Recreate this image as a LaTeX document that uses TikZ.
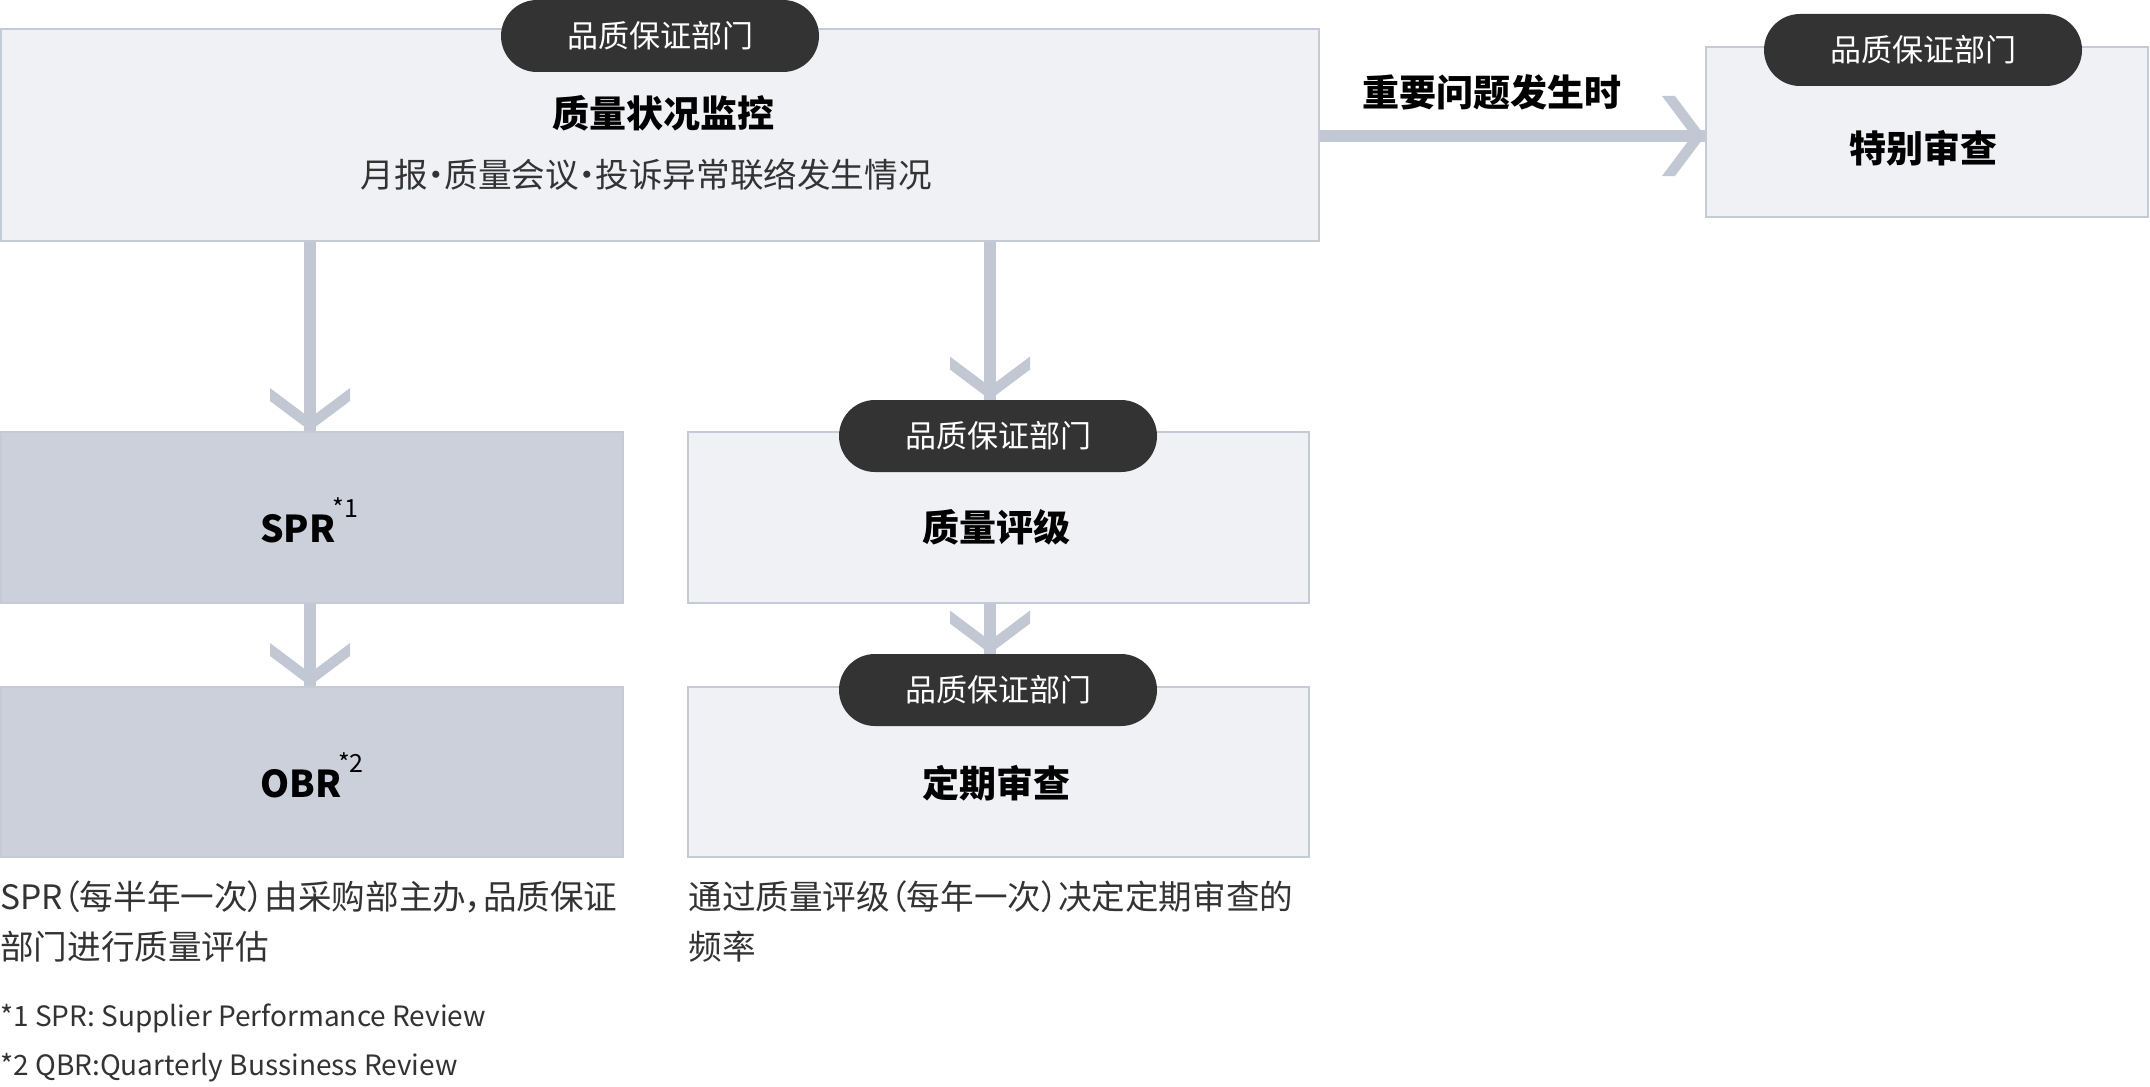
\documentclass[tikz,border=0pt]{standalone}
\usepackage{fontspec}
\setmainfont{Noto Sans CJK SC}
\newfontfamily\palfont{Noto Sans CJK SC}[RawFeature=+palt]
\usetikzlibrary{decorations.markings}
\definecolor{arrowc}{HTML}{C1C7D3}
\definecolor{boxline}{HTML}{C5CAD7}
\definecolor{boxfill}{HTML}{F0F1F5}
\definecolor{grayfill}{HTML}{CBD0DB}
\definecolor{pillc}{HTML}{333333}
\definecolor{txt}{HTML}{333333}
\tikzset{
  lbox/.style={draw=boxline, fill=boxfill, line width=1pt, inner sep=0pt},
  gbox/.style={lbox, fill=grayfill},
  pill/.style={fill=pillc, rounded corners=18pt, minimum width=159pt, minimum height=36pt, inner sep=0pt,
    text=white, font=\fontsize{15.5pt}{18pt}\selectfont},
  ttl/.style={font=\fontsize{18.5pt}{22pt}\selectfont\bfseries, text=black, inner sep=0pt},
  subtxt/.style={font=\palfont\fontsize{16.8pt}{20pt}\selectfont, text=txt, inner sep=0pt},
  captxt/.style={font=\palfont\fontsize{16.8pt}{25pt}\selectfont, text=txt, inner sep=0pt, align=left, anchor=west},
  fnote/.style={font=\fontsize{14pt}{16pt}\selectfont, text=txt, inner sep=0pt, anchor=west},
  conn/.style={draw=arrowc, line width=6pt,
    postaction={decorate, decoration={markings, mark=at position 1 with {
      \fill[arrowc] (-43,-40) -- (-30,-40) -- (0,0) -- (-30,40) -- (-43,40) -- (-13,0) -- cycle;}}}}
}
\newcommand{\supmark}[1]{\kern-1.5pt\raisebox{12.5pt}{\fontsize{12.5pt}{13pt}\selectfont\mdseries #1}}
\begin{document}
\begin{tikzpicture}[x=0.5pt, y=-0.5pt]
\useasboundingbox (0,0) rectangle (2150,1086);
% boxes
\node[lbox, minimum width=659pt, minimum height=106pt] (top) at (660,135) {};
\node[lbox, minimum width=221pt, minimum height=85pt] (special) at (1927,132) {};
\node[gbox, minimum width=311pt, minimum height=85.5pt] (spr) at (312,517.5) {};
\node[gbox, minimum width=311pt, minimum height=85pt] (obr) at (312,772) {};
\node[lbox, minimum width=310.5pt, minimum height=85.5pt] (rate) at (998.5,517.5) {};
\node[lbox, minimum width=310.5pt, minimum height=85pt] (per) at (998.5,772) {};
% pills
\node[pill] (toppill) at (660,36) {品质保证部门};
\node[pill] (specialpill) at (1923,50) {品质保证部门};
\node[pill] (ratepill) at (998,436) {品质保证部门};
\node[pill] (perpill) at (998,690) {品质保证部门};
% texts
\node[ttl] (toptitle) at (663,113) {质量状况监控};
\node[subtxt] (topsub) at (646,175) {月报•质量会议•投诉异常联络发生情况};
\node[ttl] (specialtitle) at (1923,148) {特别审查};
\node[ttl] (ratetitle) at (996,527) {质量评级};
\node[ttl] (pertitle) at (996,783) {定期审查};
\node[ttl] (sprtitle) at (309,520) {SPR\supmark{*1}};
\node[ttl] (obrtitle) at (312,775) {OBR\supmark{*2}};
\node[ttl] (cond) at (1492,92) {重要问题发生时};
% connectors
\draw[conn] (310,0 |- top.south) -- (310,0 |- spr.north);
\draw[conn] (310,0 |- spr.south) -- (310,0 |- obr.north);
\draw[conn] (990,0 |- top.south) -- (990,0 |- ratepill.north);
\draw[conn] (990,0 |- rate.south) -- (990,0 |- perpill.north);
\draw[conn] (top.east |- 0,136) -- (special.west |- 0,136);
% captions
\node[captxt] (capl) at (0,922) {SPR（每半年一次）由采购部主办，品质保证\\部门进行质量评估};
\node[captxt] (capr) at (688,922) {通过质量评级（每年一次）决定定期审查的\\频率};
\node[fnote] (fn1) at (0,1018) {*1 SPR: Supplier Performance Review};
\node[fnote] (fn2) at (0,1068) {*2 QBR:Quarterly Bussiness Review};
\end{tikzpicture}
\end{document}
